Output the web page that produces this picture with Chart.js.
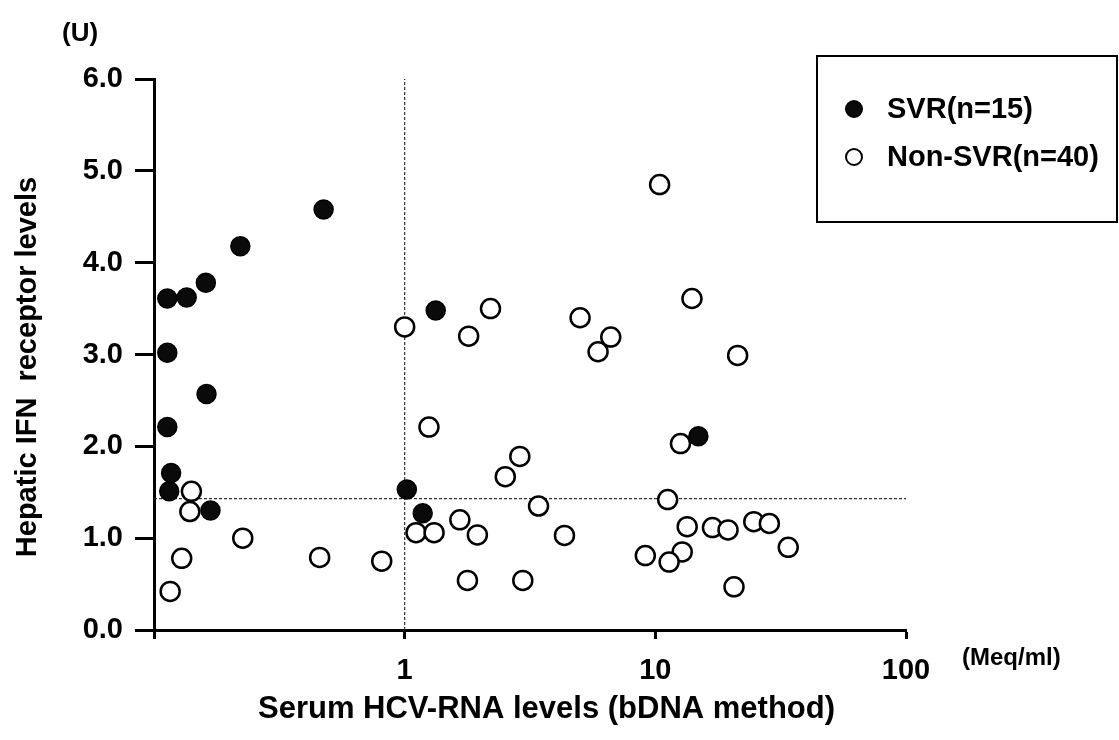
<!DOCTYPE html>
<html>
<head>
<meta charset="utf-8">
<script src="https://cdn.jsdelivr.net/npm/chart.js@4.4.1/dist/chart.umd.min.js"></script>
<style>
  html, body { margin: 0; padding: 0; background: #fff; }
  #wrap { width: 1119px; height: 740px; }
</style>
</head>
<body>
<div id="wrap"><canvas id="c" width="1119" height="740"></canvas></div>
<script>
'use strict';

// SVR patients (filled circles)
var svrX = [0.475, 0.221, 0.161, 0.113, 0.135, 0.113, 0.162, 0.113, 0.117, 0.115, 0.168, 1.02, 1.33, 1.18, 14.85];
var svrY = [4.58, 4.18, 3.78, 3.61, 3.62, 3.02, 2.57, 2.21, 1.71, 1.51, 1.30, 1.53, 3.48, 1.27, 2.11];

// Non-SVR patients (open circles)
var nonX = [0.141, 0.139, 0.226, 0.129, 0.116, 0.458, 0.81, 1.0,
  2.20, 1.80, 5.01, 6.64, 5.91, 1.25, 2.88, 2.52, 3.42, 1.11, 1.31, 1.66, 1.95, 4.34, 9.12, 1.78, 2.96,
  10.4, 14.0, 21.3, 12.6, 11.2, 13.4, 16.9, 19.5, 24.7, 28.5, 33.9, 12.8, 11.35, 20.6];
var nonY = [1.51, 1.29, 1.00, 0.78, 0.42, 0.79, 0.75, 3.30,
  3.50, 3.20, 3.40, 3.19, 3.03, 2.21, 1.89, 1.67, 1.35, 1.06, 1.06, 1.20, 1.035, 1.03, 0.81, 0.54, 0.54,
  4.85, 3.61, 2.99, 2.03, 1.42, 1.125, 1.115, 1.09, 1.18, 1.16, 0.90, 0.85, 0.74, 0.47];

var xTicks = [0.1, 1, 10, 100];
var yTicks = [0, 1, 2, 3, 4, 5, 6];
var cutX = 1;      // vertical reference line
var cutY = 1.43;   // horizontal reference line

var FONT = '"Liberation Sans", Arial, Helvetica, sans-serif';

function toPoints(xs, ys) {
  return xs.map(function(x, i) { return { x: x, y: ys[i] }; });
}

var legendBox = {
  id: 'legendBox',
  afterDraw: function(chart) {
    var ctx = chart.ctx;
    ctx.save();
    ctx.strokeStyle = '#000';
    ctx.lineWidth = 2;
    ctx.strokeRect(817, 56, 300, 166);

    var items = chart.data.datasets.slice(0, 2);
    items.forEach(function(ds, i) {
      var cy = 109 + i * 48;
      ctx.beginPath();
      ctx.arc(854, cy, 8, 0, Math.PI * 2);
      ctx.fillStyle = ds.backgroundColor;
      ctx.fill();
      ctx.lineWidth = 2;
      ctx.strokeStyle = '#000';
      ctx.stroke();
      ctx.fillStyle = '#000';
      ctx.font = 'bold 29px ' + FONT;
      ctx.textAlign = 'left';
      ctx.textBaseline = 'middle';
      ctx.fillText(ds.label, 887, cy + 1);
    });

    // unit labels and axis titles
    ctx.textBaseline = 'alphabetic';
    ctx.font = 'bold 26px ' + FONT;
    ctx.fillText('(U)', 62, 41);
    ctx.font = 'bold 24px ' + FONT;
    ctx.fillText('(Meq/ml)', 962, 665);
    ctx.font = 'bold 31px ' + FONT;
    ctx.fillText('Serum HCV-RNA levels (bDNA method)', 258, 718);

    ctx.translate(36, 367);
    ctx.rotate(-Math.PI / 2);
    ctx.textAlign = 'center';
    ctx.font = 'bold 29px ' + FONT;
    ctx.fillText('Hepatic IFN  receptor levels', 0, 0);
    ctx.restore();
  }
};

new Chart(document.getElementById('c'), {
  type: 'scatter',
  data: {
    datasets: [{
      label: 'SVR(n=15)',
      data: toPoints(svrX, svrY),
      backgroundColor: '#0a0a0a',
      borderColor: '#000',
      borderWidth: 1.5,
      pointRadius: 9.5
    }, {
      label: 'Non-SVR(n=40)',
      data: toPoints(nonX, nonY),
      backgroundColor: '#fff',
      borderColor: '#000',
      borderWidth: 2.5,
      pointRadius: 9.5
    }, {
      label: 'cutX',
      data: [{ x: cutX, y: 0 }, { x: cutX, y: 6 }],
      showLine: true,
      borderColor: '#333',
      borderWidth: 1.2,
      borderDash: [3, 2],
      pointRadius: 0
    }, {
      label: 'cutY',
      data: [{ x: 0.1, y: cutY }, { x: 100, y: cutY }],
      showLine: true,
      borderColor: '#333',
      borderWidth: 1.2,
      borderDash: [3, 2],
      pointRadius: 0
    }]
  },
  options: {
    responsive: false,
    animation: false,
    clip: false,
    layout: { padding: { left: 0, top: 79, right: 213, bottom: 50 } },
    plugins: {
      legend: { display: false },
      tooltip: { enabled: false }
    },
    scales: {
      x: {
        type: 'logarithmic',
        min: 0.1,
        max: 100,
        afterBuildTicks: function(axis) {
          axis.ticks = xTicks.map(function(v) { return { value: v }; });
        },
        afterFit: function(axis) { axis.height = 60; },
        border: { display: true, color: '#000', width: 3 },
        grid: { drawOnChartArea: false, tickLength: 9, tickWidth: 3, tickColor: '#000' },
        ticks: {
          autoSkip: false,
          maxRotation: 0,
          padding: 15,
          color: '#000',
          font: { family: FONT, size: 29, weight: 'bold' },
          callback: function(v) { return v === 0.1 ? '' : String(v); }
        }
      },
      y: {
        min: 0,
        max: 6,
        afterBuildTicks: function(axis) {
          axis.ticks = yTicks.map(function(v) { return { value: v }; });
        },
        afterFit: function(axis) { axis.width = 154; },
        border: { display: true, color: '#000', width: 3 },
        grid: { drawOnChartArea: false, tickLength: 19, tickWidth: 3, tickColor: '#000' },
        ticks: {
          padding: 12,
          color: '#000',
          font: { family: FONT, size: 29, weight: 'bold' },
          callback: function(v) { return Number(v).toFixed(1); }
        }
      }
    }
  },
  plugins: [legendBox]
});
</script>
</body>
</html>
